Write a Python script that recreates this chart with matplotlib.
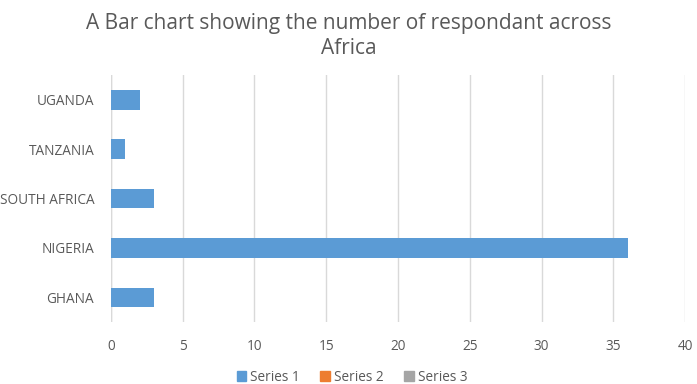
import matplotlib.pyplot as plt
from matplotlib.patches import Patch

countries = ['GHANA', 'NIGERIA', 'SOUTH AFRICA', 'TANZANIA', 'UGANDA']
series1 = [3, 36, 3, 1, 2]
series_names = ['Series 1', 'Series 2', 'Series 3']
series_colors = ['#5b9bd5', '#ed7d31', '#a5a5a5']
x_ticks = [0, 5, 10, 15, 20, 25, 30, 35, 40]

plt.rcParams['font.family'] = ['Open Sans', 'DejaVu Sans']
text_color = '#595959'

fig = plt.figure(figsize=(6.97, 3.84), dpi=100)
ax = fig.add_axes([0.159, 0.161, 0.824, 0.644])

ypos = list(range(len(countries)))
ax.barh(ypos, series1, height=0.4, color=series_colors[0], zorder=3)

ax.set_xlim(0, 40)
ax.set_ylim(-0.5, len(countries) - 0.5)
ax.set_xticks(x_ticks)
ax.set_yticks(ypos)
ax.set_yticklabels(countries)
ax.tick_params(axis='both', length=0, labelsize=9.8, colors=text_color)
ax.tick_params(axis='x', pad=12)
ax.tick_params(axis='y', pad=12)
ax.grid(axis='x', color='#d9d9d9', linewidth=1, zorder=0)
for s in ax.spines.values():
    s.set_visible(False)
ax.axvline(0, color='#d9d9d9', linewidth=1, zorder=1)

fig.text(0.5, 0.965, 'A Bar chart showing the number of respondant across\nAfrica',
         ha='center', va='top', fontsize=15, color=text_color, linespacing=1.25)

handles = [Patch(color=c, label=n) for c, n in zip(series_colors, series_names)]
fig.legend(handles=handles, loc='center', bbox_to_anchor=(0.505, 0.018), ncol=3,
           frameon=False, fontsize=9.8, labelcolor=text_color, handlelength=0.7,
           handleheight=0.7, handletextpad=0.3, columnspacing=1.5)

fig.savefig('out.png', dpi=100)
